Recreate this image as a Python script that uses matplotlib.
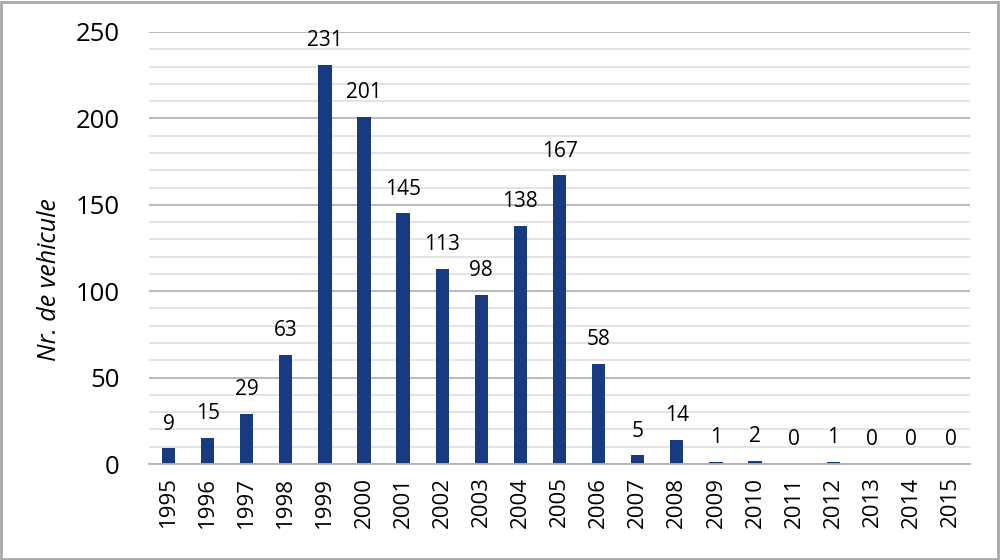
import matplotlib
matplotlib.use("Agg")
import matplotlib.pyplot as plt
from matplotlib.ticker import MultipleLocator
from matplotlib.patches import Rectangle

years = [str(y) for y in range(1995, 2016)]
values = [9, 15, 29, 63, 231, 201, 145, 113, 98, 138, 167, 58, 5, 14, 1, 2, 0, 1, 0, 0, 0]
ylabel = "Nr. de vehicule"

plt.rcParams['font.family'] = ['Open Sans', 'DejaVu Sans']

fig = plt.figure(figsize=(10, 5.6), dpi=100)
ax = fig.add_axes([0.149, 0.1714, 0.821, 0.7715])

bar_color = '#183a83'
x = list(range(len(years)))
bars = ax.bar(x, values, width=0.34, color=bar_color, zorder=3)

for xi, v in zip(x, values):
    ax.text(xi, v + 8, str(v), ha='center', va='bottom', fontsize=15, color='#000000', zorder=4)

ax.set_xlim(-0.5, len(years) - 0.5)
ax.set_ylim(0, 250)
ax.yaxis.set_major_locator(MultipleLocator(50))
ax.yaxis.set_minor_locator(MultipleLocator(10))
ax.grid(axis='y', which='major', color='#b4b4b4', linewidth=1.3, zorder=0)
ax.grid(axis='y', which='minor', color='#e0e0e0', linewidth=1.3, zorder=0)
ax.set_axisbelow(True)

ax.set_xticks(x)
ax.set_xticklabels(years, rotation=90, fontsize=16)
ax.tick_params(axis='y', labelsize=18.5, length=0, pad=21, which='both')
ax.tick_params(axis='x', length=0, pad=9)

for s in ['top', 'right', 'left']:
    ax.spines[s].set_visible(False)
ax.spines['bottom'].set_color('#b4b4b4')
ax.spines['bottom'].set_linewidth(1.3)
ax.spines['bottom'].set_zorder(5)

fig.text(0.05, 0.5, ylabel, rotation=90, ha='center', va='center',
         fontsize=18, style='italic')

fig.patches.append(Rectangle((0.001, 0.002), 0.997, 0.995, transform=fig.transFigure,
                             fill=False, edgecolor='#a8a8a8', linewidth=2))

fig.savefig('out.png', dpi=100)
